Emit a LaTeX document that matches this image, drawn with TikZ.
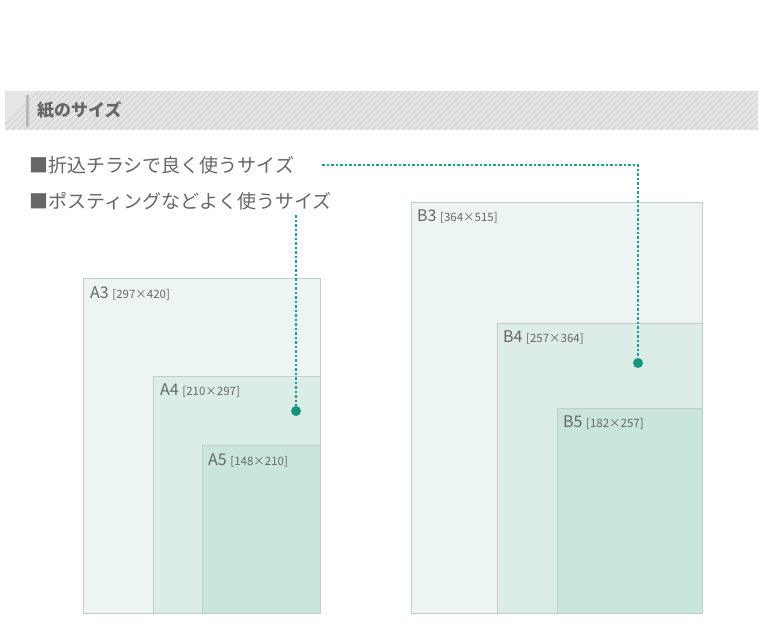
\documentclass[tikz,border=0pt]{standalone}
\usepackage{fontspec}
\setmainfont{Noto Sans CJK JP}
\newcommand\szf[1]{{\fontsize{11.5}{12}\selectfont #1}}
\begin{document}
\definecolor{txt}{HTML}{666666}
\definecolor{teal}{HTML}{14A58C}
\definecolor{fa}{HTML}{EDF5F3}
\definecolor{fb}{HTML}{DCEDE8}
\definecolor{fc}{HTML}{C8E5DE}
\definecolor{bd}{HTML}{C2CDCA}
\begin{tikzpicture}[x=1pt,y=-1pt,
  sheet/.style={draw=bd,line width=0.8pt},
  lab/.style={anchor=west,text=txt,inner sep=0pt,font=\fontsize{16}{16}\selectfont},
  lead/.style={teal,line width=1.6pt,dash pattern=on 2.5pt off 2pt},
  dotm/.style={circle,fill=teal!90!black,inner sep=0pt,minimum size=10pt}]
\useasboundingbox (0,0) rectangle (765,642);
\fill[white] (0,0) rectangle (765,642);
% header
\begin{scope}
\clip (5,91) rectangle (758,130);
\fill[black!10] (5,91) rectangle (758,130);
\foreach \i in {0,6,...,820} \draw[black!18,line width=1pt] (\i,130) -- ++(39,-39);
\end{scope}
\fill[black!28] (25.5,95) rectangle (29,127);
\node[anchor=west,text=txt,inner sep=0pt,font=\bfseries\fontsize{17}{17}\selectfont] (title) at (37,110) {紙のサイズ};
\node[anchor=west,text=txt,inner sep=0pt,font=\fontsize{19}{19}\selectfont] (l1) at (29,165) {■折込チラシで良く使うサイズ};
\node[anchor=west,text=txt,inner sep=0pt,font=\fontsize{19}{19}\selectfont] (l2) at (29,201) {■ポスティングなどよく使うサイズ};
% sheets
\draw[sheet,fill=fa] (83,278) rectangle (320,613);
\draw[sheet,fill=fb] (153,376) rectangle (320,613);
\draw[sheet,fill=fc] (202,445) rectangle (320,613);
\draw[sheet,fill=fa] (411,202) rectangle (702,613);
\draw[sheet,fill=fb] (497,323) rectangle (702,613);
\draw[sheet,fill=fc] (557,408) rectangle (702,613);
\node[lab] (a3) at (90,294) {A3 \szf{[297×420]}};
\node[lab] (a4) at (160,391) {A4 \szf{[210×297]}};
\node[lab] (a5) at (208,461) {A5 \szf{[148×210]}};
\node[lab] (b3) at (417,217) {B3 \szf{[364×515]}};
\node[lab] (b4) at (503,338) {B4 \szf{[257×364]}};
\node[lab] (b5) at (563,423) {B5 \szf{[182×257]}};
% leaders
\node[dotm] (d1) at (638,363) {};
\node[dotm] (d2) at (296,411) {};
\coordinate (c1) at (322,165);
\coordinate (k1) at (638,165);
\coordinate (c2) at (296,215);
\draw[lead] (c1) -- (k1) -- (d1);
\draw[lead] (c2) -- (d2);
\end{tikzpicture}
\end{document}
